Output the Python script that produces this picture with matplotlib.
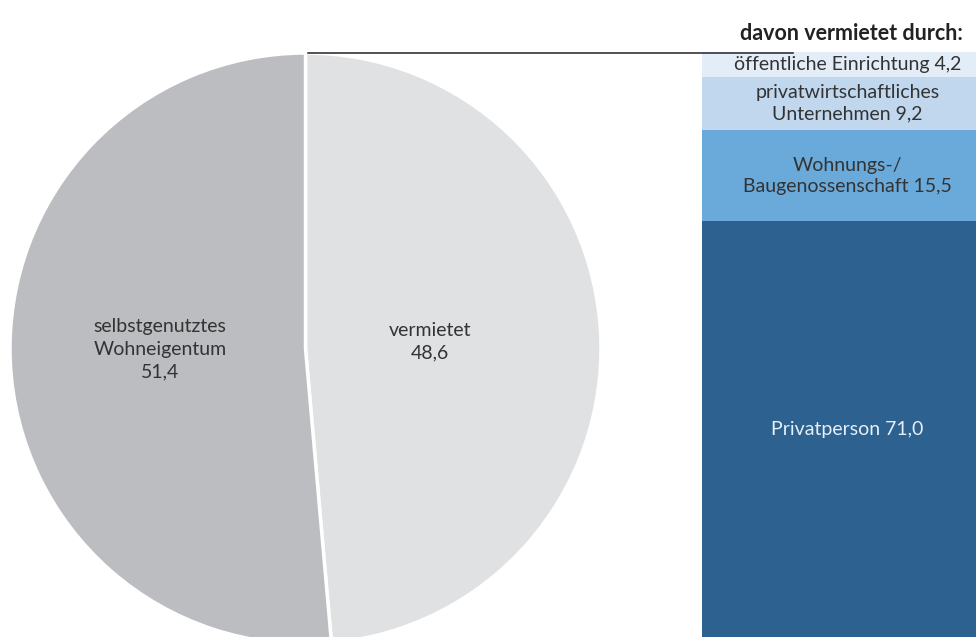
import matplotlib

matplotlib.use("Agg")

import matplotlib.pyplot as plt
from matplotlib.lines import Line2D

plt.rcParams["font.family"] = ["Lato", "DejaVu Sans"]

# pie: share of dwellings
pie_labels = ["vermietet\n48,6", "selbstgenutztes\nWohneigentum\n51,4"]
pie_values = [48.6, 51.4]
pie_colors = ["#e0e1e3", "#bcbdc1"]

# stacked bar: "davon vermietet durch"
bar_labels = [
    "öffentliche Einrichtung 4,2",
    "privatwirtschaftliches\nUnternehmen 9,2",
    "Wohnungs-/\nBaugenossenschaft 15,5",
    "Privatperson 71,0",
]
bar_values = [4.2, 9.2, 15.5, 71.0]
bar_colors = ["#e3edf8", "#c0d7ee", "#6aaadb", "#2c6190"]
bar_text_colors = ["#333333", "#333333", "#333333", "#e6eef6"]

W, H = 976, 637
fig = plt.figure(figsize=(W / 100, H / 100), dpi=100)
fig.patch.set_facecolor("white")

# pixel-coordinate axes for the pie
ax = fig.add_axes([0, 0, 1, 1])
cx, cy, r = 305.5, H - 348.5, 295.5
wedges, texts = ax.pie(
    pie_values,
    colors=pie_colors,
    startangle=90,
    counterclock=False,
    center=(cx, cy),
    radius=r,
    labels=pie_labels,
    labeldistance=None,
    wedgeprops=dict(edgecolor="white", linewidth=2.5),
)
ax.set_xlim(0, W)
ax.set_ylim(0, H)
ax.set_aspect("equal")
ax.axis("off")

text_style = dict(ha="center", va="center", fontsize=14, color="#333333",
                  linespacing=1.4)
ax.text(430, H - 342, pie_labels[0], **text_style)
ax.text(160, H - 349, pie_labels[1], **text_style)

# stacked bar
total = sum(bar_values)
bx = fig.add_axes([702 / W, 0, (W - 702) / W, 585 / H])
bottom = 0.0
for val, col, lab, tcol in zip(bar_values, bar_colors, bar_labels, bar_text_colors):
    bx.bar([0], [val], bottom=bottom, width=1.0, color=col, edgecolor="none")
    bx.text(0.03, bottom + val / 2, lab, ha="center", va="center",
            fontsize=14, color=tcol, linespacing=1.3)
    bottom += val
bx.set_xlim(-0.5, 0.5)
bx.set_ylim(total, 0)
bx.axis("off")

# connector line from top of pie to bar
fig.add_artist(Line2D([(cx + 2) / W, 793 / W], [1 - 52.5 / H, 1 - 52.5 / H],
                      color="#222222", lw=1.1, transform=fig.transFigure))

fig.text(963 / W, 1 - 33 / H, "davon vermietet durch:", ha="right", va="center",
         fontsize=15.5, fontweight="bold", color="#222222")

fig.savefig("out.png", dpi=100, facecolor="white")
plt.close(fig)
